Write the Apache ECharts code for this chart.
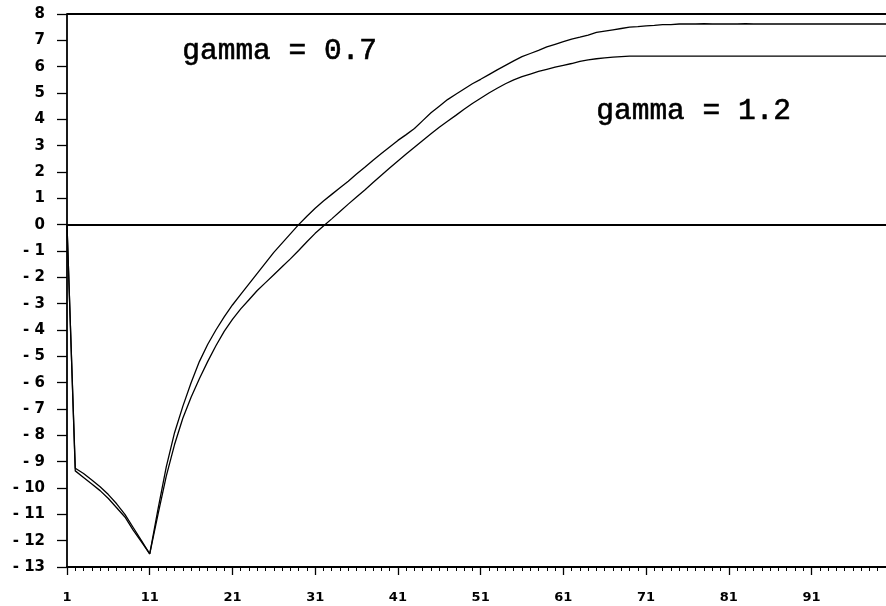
<!DOCTYPE html>
<html>
<head>
<meta charset="utf-8">
<script src="https://cdn.jsdelivr.net/npm/echarts@6/dist/echarts.min.js"></script>
<style>html,body{margin:0;padding:0;background:#fff}#c{width:886px;height:606px}</style>
</head>
<body>
<div id="c"></div>
<script>
// periods 1..100
const periods = Array.from({length: 100}, (_, i) => String(i + 1));
const gamma07 = [
  0, -9.25, -9.45, -9.7, -9.95, -10.25, -10.6, -11.0, -11.5, -12.0,
  -12.5, -10.8, -9.2, -7.9, -6.9, -6.0, -5.2, -4.55, -4.0, -3.5,
  -3.05, -2.65, -2.25, -1.85, -1.45, -1.05, -0.7, -0.35, 0.0, 0.32,
  0.62, 0.9, 1.15, 1.4, 1.65, 1.92, 2.18, 2.45, 2.7, 2.95,
  3.2, 3.42, 3.65, 3.95, 4.25, 4.5, 4.75, 4.95, 5.15, 5.35,
  5.52, 5.7, 5.88, 6.05, 6.22, 6.38, 6.5, 6.62, 6.75, 6.85,
  6.95, 7.05, 7.12, 7.2, 7.3, 7.35, 7.4, 7.45, 7.5, 7.52,
  7.55, 7.57, 7.6, 7.6, 7.62, 7.62, 7.62, 7.63, 7.62, 7.62,
  7.62, 7.62, 7.63, 7.62, 7.62, 7.62, 7.62, 7.62, 7.62, 7.62,
  7.62, 7.62, 7.62, 7.62, 7.62, 7.62, 7.62, 7.62, 7.62, 7.62
];
const gamma12 = [
  0, -9.35, -9.6, -9.85, -10.1, -10.4, -10.75, -11.1, -11.6, -12.05,
  -12.5, -11.0, -9.55, -8.35, -7.35, -6.55, -5.85, -5.2, -4.6, -4.05,
  -3.6, -3.2, -2.85, -2.5, -2.2, -1.9, -1.6, -1.3, -0.98, -0.65,
  -0.33, -0.05, 0.22, 0.5, 0.78, 1.05, 1.32, 1.6, 1.88, 2.15,
  2.42, 2.68, 2.94, 3.2, 3.45, 3.7, 3.93, 4.15, 4.38, 4.6,
  4.8, 5.0, 5.18, 5.35, 5.5, 5.62, 5.72, 5.82, 5.9, 5.98,
  6.05, 6.12, 6.2, 6.26, 6.3, 6.33, 6.36, 6.38, 6.4, 6.4,
  6.4, 6.4, 6.4, 6.4, 6.4, 6.4, 6.4, 6.4, 6.4, 6.4,
  6.4, 6.4, 6.4, 6.4, 6.4, 6.4, 6.4, 6.4, 6.4, 6.4,
  6.4, 6.4, 6.4, 6.4, 6.4, 6.4, 6.4, 6.4, 6.4, 6.4
];
const yMin = -13, yMax = 8;
const annotations = ['gamma = 0.7', 'gamma = 1.2'];

const chart = echarts.init(document.getElementById('c'), null, {renderer: 'canvas'});
const lineStyle = {color: '#000', width: 1.3};
chart.setOption({
  animation: false,
  backgroundColor: '#fff',
  grid: {left: 67, right: -6, top: 14, bottom: 39, containLabel: false},
  xAxis: [{
    type: 'category', data: periods, boundaryGap: false,
    axisLine: {onZero: false, lineStyle: {color: '#000', width: 1.8}},
    axisTick: {interval: 0, length: 4, lineStyle: {color: '#000', width: 1}},
    axisLabel: {interval: 9, color: '#000', fontSize: 13, fontWeight: 'bold', fontFamily: 'DejaVu Sans', margin: 24},
    splitLine: {show: false}
  }, {
    type: 'category', data: periods, boundaryGap: false, position: 'bottom',
    axisLine: {show: false, onZero: false},
    axisTick: {interval: 9, length: 8, lineStyle: {color: '#000', width: 1.3}},
    axisLabel: {show: false},
    splitLine: {show: false}
  }],
  yAxis: {
    type: 'value', min: yMin, max: yMax, interval: 1,
    axisLine: {show: true, lineStyle: {color: '#000', width: 1.8}},
    axisTick: {show: true, length: 10, lineStyle: {color: '#000', width: 1.3}},
    axisLabel: {color: '#000', fontSize: 15, fontWeight: 'bold', fontFamily: 'DejaVu Sans', margin: 22,
      formatter: v => v < 0 ? '- ' + Math.abs(v) : String(v)},
    splitLine: {show: false}
  },
  series: [{
    name: 'gamma = 0.7', type: 'line', data: gamma07, symbol: 'none',
    lineStyle: lineStyle,
    markLine: {
      silent: true, symbol: 'none', label: {show: false},
      lineStyle: {color: '#000', width: 1.8, type: 'solid'},
      data: [{yAxis: 0}, {yAxis: yMax}]
    }
  }, {
    name: 'gamma = 1.2', type: 'line', data: gamma12, symbol: 'none',
    lineStyle: lineStyle
  }],
  graphic: [
    {type: 'text', left: 182, top: 36, style: {text: annotations[0], font: '29.5px "Liberation Mono"', fill: '#000', stroke: '#000', lineWidth: 0.6}},
    {type: 'text', left: 596, top: 96, style: {text: annotations[1], font: '29.5px "Liberation Mono"', fill: '#000', stroke: '#000', lineWidth: 0.6}}
  ]
});
</script>
</body>
</html>
